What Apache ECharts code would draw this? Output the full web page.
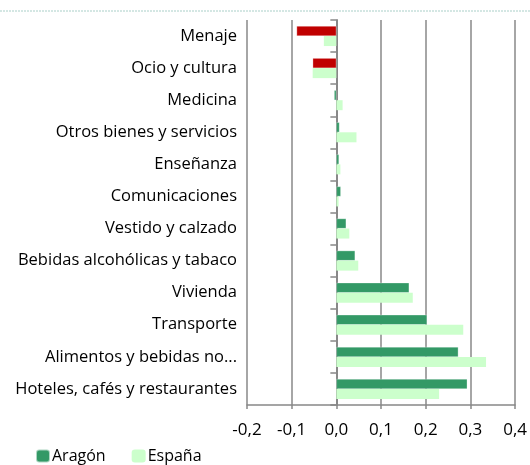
<!DOCTYPE html>
<html>
<head>
<meta charset="utf-8">
<script src="https://cdn.jsdelivr.net/npm/echarts@6/dist/echarts.min.js"></script>
<style>
  html, body { margin: 0; padding: 0; background: #fff; }
  #main { width: 530px; height: 465px; }
</style>
</head>
<body>
<div id="main"></div>
<script>
// categorias, de arriba a abajo
var categorias = [
  "Menaje",
  "Ocio y cultura",
  "Medicina",
  "Otros bienes y servicios",
  "Enseñanza",
  "Comunicaciones",
  "Vestido y calzado",
  "Bebidas alcohólicas y tabaco",
  "Vivienda",
  "Transporte",
  "Alimentos y bebidas no...",
  "Hoteles, cafés y restaurantes"
];
var aragon = [-0.089, -0.053, -0.005, 0.007, 0.006, 0.010, 0.022, 0.042, 0.163, 0.203, 0.273, 0.293];
var espana = [-0.028, -0.053, 0.014, 0.045, 0.009, 0.005, 0.029, 0.049, 0.171, 0.284, 0.335, 0.230];
var ticksX = [-0.2, -0.1, 0, 0.1, 0.2, 0.3, 0.4];

var fuente = "Open Sans";
var myChart = echarts.init(document.getElementById("main"));

var option = {
  animation: false,
  textStyle: { fontFamily: fuente },
  grid: { left: 247, right: 14, top: 20, bottom: 60 },
  legend: {
    left: 30,
    top: 443,
    itemWidth: 14,
    itemHeight: 13,
    itemGap: 26,
    textStyle: { fontSize: 16, color: "#000", fontFamily: fuente, padding: [0, 0, 0, -3] },
    data: [
      { name: "Aragón", itemStyle: { color: "#339966" } },
      { name: "España", itemStyle: { color: "#ccffcc" } }
    ]
  },
  xAxis: {
    type: "value",
    min: ticksX[0],
    max: ticksX[ticksX.length - 1],
    interval: 0.1,
    axisLine: { show: true, onZero: false, lineStyle: { color: "#888", width: 1.5 } },
    axisTick: { show: true, length: 4, lineStyle: { color: "#888", width: 1.5 } },
    splitLine: { show: true, lineStyle: { color: "#888", width: 1.5 } },
    axisLabel: {
      fontSize: 17,
      color: "#000",
      margin: 17,
      formatter: function (v) { return v.toFixed(1).replace(".", ","); }
    }
  },
  yAxis: [
    {
      type: "category",
      data: categorias,
      inverse: true,
      axisLine: { show: false, onZero: false },
      axisTick: { show: false },
      axisLabel: { fontSize: 16.5, color: "#000", margin: 10 }
    },
    {
      type: "category",
      data: categorias,
      inverse: true,
      position: "left",
      axisLine: { show: true, onZero: true, lineStyle: { color: "#888", width: 2 } },
      axisTick: { show: true, length: 6, lineStyle: { color: "#888", width: 1.5 } },
      axisLabel: { show: false }
    }
  ],
  series: [
    {
      name: "Aragón",
      type: "bar",
      data: aragon,
      barWidth: 10,
      barGap: "0%",
      itemStyle: {
        // las caídas claras van en rojo
        color: function (p) { return p.value < -0.02 ? "#c00000" : "#339966"; },
        borderColor: "rgba(255,255,255,0.6)",
        borderWidth: 0.5
      }
    },
    {
      name: "España",
      type: "bar",
      data: espana,
      barWidth: 10,
      barGap: "0%",
      itemStyle: { color: "#ccffcc" }
    }
  ],
  graphic: [
    {
      type: "line",
      shape: { x1: 0, y1: 11, x2: 530, y2: 11 },
      style: { stroke: "#a9cfc8", lineWidth: 1, lineDash: [2, 1] }
    }
  ]
};
myChart.setOption(option);
</script>
</body>
</html>
